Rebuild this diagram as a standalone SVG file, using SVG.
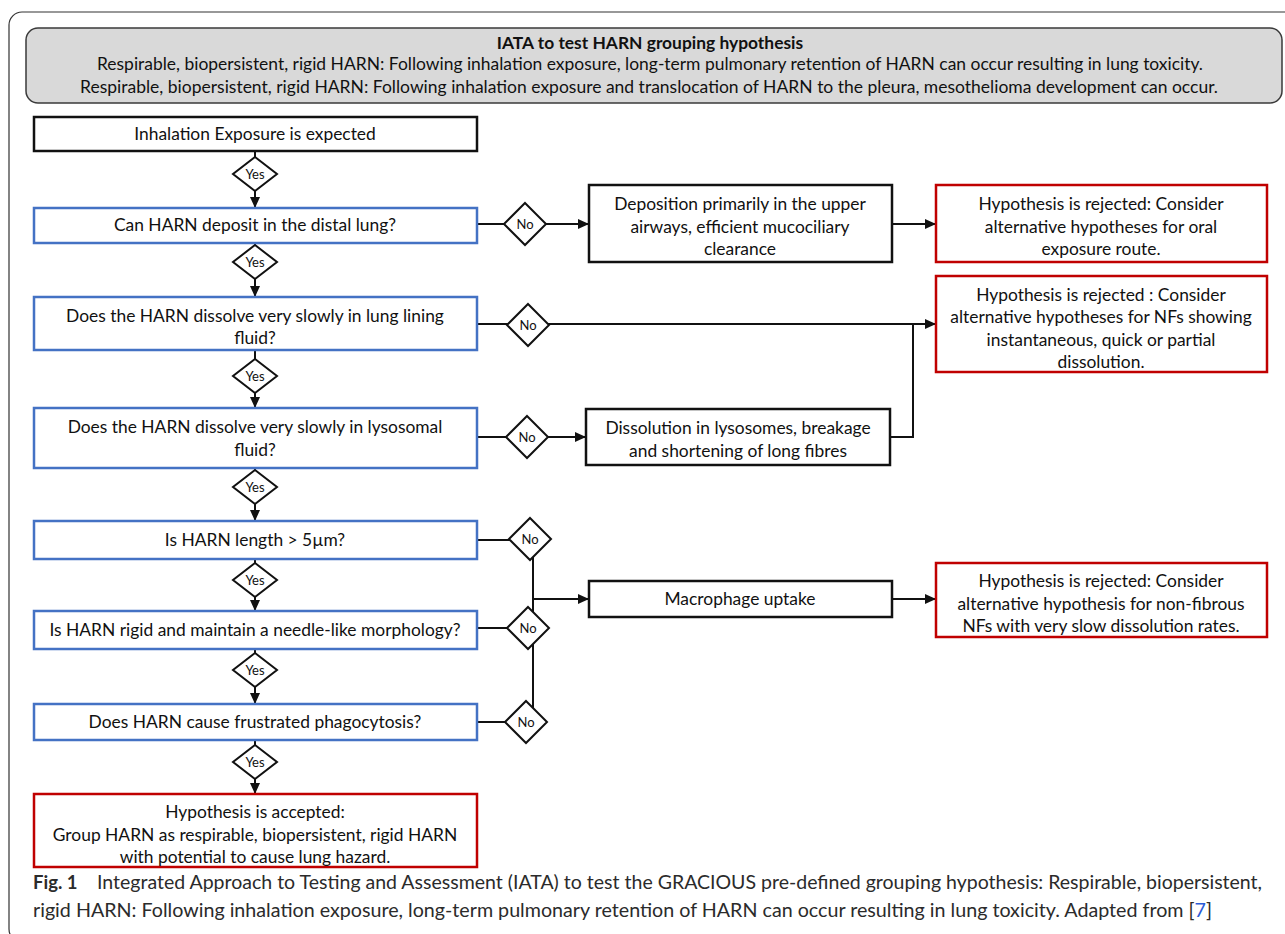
<svg xmlns="http://www.w3.org/2000/svg" width="1285" height="934" viewBox="0 0 1285 934">
<style>
.t{font-family:Lato,"Liberation Sans",sans-serif;font-size:17.4px;fill:#111;text-anchor:middle}
.hb{font-weight:bold}
.box{fill:#fff;stroke-width:2.5}
.k{stroke:#111}.b{stroke:#4472C4}.r{stroke:#C00000}
.dia{fill:#fff;stroke:#111;stroke-width:2}
.yn{font-family:Lato,"Liberation Sans",sans-serif;font-size:13px;fill:#111;text-anchor:middle}
.c{stroke:#111;stroke-width:2;fill:none}
.cap{font-family:Lato,"Liberation Sans",sans-serif;font-size:18.5px;fill:#2b2b2b}
</style>
<defs>
<marker id="ah" markerUnits="userSpaceOnUse" markerWidth="11" markerHeight="10" refX="11" refY="5" orient="auto">
<path d="M0,0 L11,5 L0,10 z" fill="#111"/>
</marker>
</defs>
<rect width="1285" height="934" fill="#fff"/>
<rect x="9" y="12" width="1300" height="930" rx="13" fill="none" stroke="#333" stroke-width="1.2"/>

<g id="header">
<rect x="26" y="28" width="1256" height="75" rx="12" fill="#d9d9d9" stroke="#3a3a3a" stroke-width="1.5"/>
<text class="t hb" x="650" y="49">IATA to test HARN grouping hypothesis</text>
<text class="t" x="650" y="70" textLength="1106" lengthAdjust="spacingAndGlyphs">Respirable, biopersistent, rigid HARN: Following inhalation exposure, long-term pulmonary retention of HARN can occur resulting in lung toxicity.</text>
<text class="t" x="649" y="93" textLength="1138" lengthAdjust="spacingAndGlyphs">Respirable, biopersistent, rigid HARN: Following inhalation exposure and translocation of HARN to the pleura, mesothelioma development can occur.</text>
</g>

<g id="connectors">
<path class="c" d="M255,151 V208" marker-end="url(#ah)"/>
<path class="c" d="M255,243 V297" marker-end="url(#ah)"/>
<path class="c" d="M255,350 V408" marker-end="url(#ah)"/>
<path class="c" d="M255,468 V521" marker-end="url(#ah)"/>
<path class="c" d="M255,559 V611" marker-end="url(#ah)"/>
<path class="c" d="M255,649 V704" marker-end="url(#ah)"/>
<path class="c" d="M255,740 V794" marker-end="url(#ah)"/>
<path class="c" d="M477,224 H589" marker-end="url(#ah)"/>
<path class="c" d="M892,224 H936" marker-end="url(#ah)"/>
<path class="c" d="M477,324 H936" marker-end="url(#ah)"/>
<path class="c" d="M890,437 H913 V324"/>
<path class="c" d="M477,437 H586" marker-end="url(#ah)"/>
<path class="c" d="M477,540 H530"/>
<path class="c" d="M477,628 H528"/>
<path class="c" d="M477,722 H526"/>
<path class="c" d="M533,540 V722"/>
<path class="c" d="M533,599 H589" marker-end="url(#ah)"/>
<path class="c" d="M892,599 H936" marker-end="url(#ah)"/>
</g>

<g id="decisions">
<g id="yes1"><path class="dia" d="M255,157 L277,174 L255,191 L233,174 z"/><text class="yn" x="255" y="178.5">Yes</text></g>
<g id="yes2"><path class="dia" d="M255,245 L277,262 L255,279 L233,262 z"/><text class="yn" x="255" y="266.5">Yes</text></g>
<g id="yes3"><path class="dia" d="M255,359 L277,376 L255,393 L233,376 z"/><text class="yn" x="255" y="380.5">Yes</text></g>
<g id="yes4"><path class="dia" d="M255,470 L277,487 L255,504 L233,487 z"/><text class="yn" x="255" y="491.5">Yes</text></g>
<g id="yes5"><path class="dia" d="M255,563 L277,580 L255,597 L233,580 z"/><text class="yn" x="255" y="584.5">Yes</text></g>
<g id="yes6"><path class="dia" d="M255,653 L277,670 L255,687 L233,670 z"/><text class="yn" x="255" y="674.5">Yes</text></g>
<g id="yes7"><path class="dia" d="M255,745 L277,762 L255,779 L233,762 z"/><text class="yn" x="255" y="766.5">Yes</text></g>
<g id="no2"><path class="dia" d="M525,203 L546,224 L525,245 L504,224 z"/><text class="yn" x="525" y="228.5">No</text></g>
<g id="no3"><path class="dia" d="M528,304 L549,325 L528,346 L507,325 z"/><text class="yn" x="528" y="329.5">No</text></g>
<g id="no4"><path class="dia" d="M527,416 L548,437 L527,458 L506,437 z"/><text class="yn" x="527" y="441.5">No</text></g>
<g id="no5"><path class="dia" d="M530,518 L551,539 L530,560 L509,539 z"/><text class="yn" x="530" y="543.5">No</text></g>
<g id="no6"><path class="dia" d="M528,607 L549,628 L528,649 L507,628 z"/><text class="yn" x="528" y="632.5">No</text></g>
<g id="no7"><path class="dia" d="M526,701 L547,722 L526,743 L505,722 z"/><text class="yn" x="526" y="726.5">No</text></g>
</g>

<g id="n-inhalation"><rect class="box k" x="34" y="117" width="443" height="34"/><text class="t" x="255" y="140">Inhalation Exposure is expected</text></g>
<g id="n-deposit"><rect class="box b" x="34" y="208" width="443" height="35"/><text class="t" x="255" y="231">Can HARN deposit in the distal lung?</text></g>
<g id="n-lungfluid"><rect class="box b" x="34" y="297" width="443" height="53"/><text class="t" x="255" y="322">Does the HARN dissolve very slowly in lung lining</text><text class="t" x="255" y="344">fluid?</text></g>
<g id="n-lysosomal"><rect class="box b" x="34" y="408" width="443" height="60"/><text class="t" x="255" y="433">Does the HARN dissolve very slowly in lysosomal</text><text class="t" x="255" y="456">fluid?</text></g>
<g id="n-length"><rect class="box b" x="34" y="521" width="443" height="38"/><text class="t" x="255" y="546">Is HARN length &gt; 5µm?</text></g>
<g id="n-rigid"><rect class="box b" x="34" y="611" width="443" height="38"/><text class="t" x="255" y="636">Is HARN rigid and maintain a needle-like morphology?</text></g>
<g id="n-frustrated"><rect class="box b" x="34" y="704" width="443" height="36"/><text class="t" x="255" y="728">Does HARN cause frustrated phagocytosis?</text></g>
<g id="n-accepted"><rect class="box r" x="34" y="794" width="443" height="73"/><text class="t" x="255" y="818">Hypothesis is accepted:</text><text class="t" x="255" y="841">Group HARN as respirable, biopersistent, rigid HARN</text><text class="t" x="255" y="863">with potential to cause lung hazard.</text></g>

<g id="n-upper"><rect class="box k" x="589" y="185" width="303" height="77"/><text class="t" x="740" y="209.5">Deposition primarily in the upper</text><text class="t" x="740" y="232.5">airways, efficient mucociliary</text><text class="t" x="740" y="255">clearance</text></g>
<g id="n-lysis"><rect class="box k" x="586" y="409" width="304" height="56"/><text class="t" x="738" y="434">Dissolution in lysosomes, breakage</text><text class="t" x="738" y="457">and shortening of long fibres</text></g>
<g id="n-macro"><rect class="box k" x="589" y="581" width="303" height="36"/><text class="t" x="740" y="605">Macrophage uptake</text></g>

<g id="n-rej1"><rect class="box r" x="936" y="185" width="331" height="77"/><text class="t" x="1101" y="209.5">Hypothesis is rejected: Consider</text><text class="t" x="1101" y="232.5">alternative hypotheses for oral</text><text class="t" x="1101" y="255">exposure route.</text></g>
<g id="n-rej2"><rect class="box r" x="936" y="276" width="331" height="96"/><text class="t" x="1101" y="301">Hypothesis is rejected : Consider</text><text class="t" x="1101" y="323">alternative hypotheses for NFs showing</text><text class="t" x="1101" y="345.5">instantaneous, quick or partial</text><text class="t" x="1101" y="368">dissolution.</text></g>
<g id="n-rej3"><rect class="box r" x="936" y="563" width="331" height="74"/><text class="t" x="1101" y="587">Hypothesis is rejected: Consider</text><text class="t" x="1101" y="610">alternative hypothesis for non-fibrous</text><text class="t" x="1101" y="632">NFs with very slow dissolution rates.</text></g>

<g id="caption">
<text class="cap" x="33" y="889" font-weight="bold" font-size="19.5px" fill="#222">Fig. 1</text>
<text class="cap" x="97" y="889" textLength="1165" lengthAdjust="spacingAndGlyphs">Integrated Approach to Testing and Assessment (IATA) to test the GRACIOUS pre-defined grouping hypothesis: Respirable, biopersistent,</text>
<text class="cap" x="33" y="917" textLength="1179" lengthAdjust="spacingAndGlyphs">rigid HARN: Following inhalation exposure, long-term pulmonary retention of HARN can occur resulting in lung toxicity.  Adapted from [<tspan fill="#2a5bd7">7</tspan>]</text>
</g>
</svg>
